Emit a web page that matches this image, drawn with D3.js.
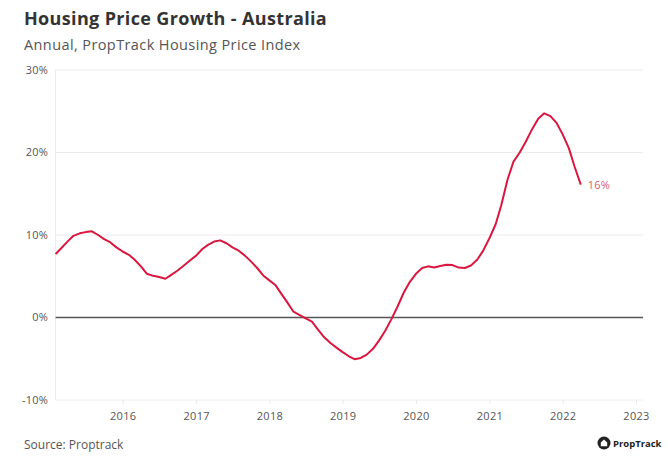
<!DOCTYPE html>
<html>
<head>
<meta charset="utf-8">
<script src="https://cdn.jsdelivr.net/npm/d3@7"></script>
<style>
  body { margin: 0; background: #fff; }
  svg { display: block; font-family: "Open Sans", "DejaVu Sans", sans-serif; }
</style>
</head>
<body>
<svg id="chart" width="668" height="473"></svg>
<script>
// ---- data ----
const startMonth = "2015-02";   // first monthly observation
const growth = [
  7.7, 8.4, 9.2, 9.9, 10.2, 10.35, 10.45, 10.0, 9.5, 9.1, 8.5, 8.0,
  7.6, 7.0, 6.2, 5.3, 5.05, 4.9, 4.7, 5.2, 5.7, 6.3, 6.9, 7.5,
  8.3, 8.8, 9.2, 9.35, 9.0, 8.5, 8.1, 7.5, 6.8, 6.0, 5.1, 4.5,
  3.9, 2.9, 1.8, 0.7, 0.3, -0.1, -0.5, -1.5, -2.4, -3.1, -3.65, -4.2,
  -4.7, -5.05, -4.9, -4.5, -3.8, -2.8, -1.6, -0.2, 1.3, 3.0, 4.3, 5.3,
  6.0, 6.2, 6.05, 6.25, 6.4, 6.35, 6.05, 6.0, 6.3, 7.0, 8.1, 9.6,
  11.3, 13.6, 16.7, 18.9, 20.0, 21.3, 22.8, 24.1, 24.75, 24.4, 23.6, 22.2,
  20.5, 18.3, 16.1
];
const yTicks = [-10, 0, 10, 20, 30];
const xTickYears = [2016, 2017, 2018, 2019, 2020, 2021, 2022, 2023];
const endLabel = "16%";
const title = "Housing Price Growth - Australia";
const subtitle = "Annual, PropTrack Housing Price Index";
const source = "Source: Proptrack";
const brand = "PropTrack";

// ---- build ----
const parseMonth = d3.timeParse("%Y-%m");
const t0 = parseMonth(startMonth);
const data = growth.map((v, i) => ({ date: d3.timeMonth.offset(t0, i), value: v }));

const svg = d3.select("#chart");
const red = "#d9173f";

const x = d3.scaleTime()
  .domain([t0, new Date(2023, 1, 5)])
  .range([55.6, 643]);
const y = d3.scaleLinear().domain([-10, 30]).range([400, 70]);

// gridlines
svg.append("g").selectAll("line").data(yTicks.filter(d => d !== 0)).join("line")
  .attr("x1", x.range()[0]).attr("x2", x.range()[1])
  .attr("y1", d => y(d)).attr("y2", d => y(d))
  .attr("stroke", "#ececec").attr("stroke-width", 1);
svg.append("line")
  .attr("x1", x.range()[0]).attr("x2", x.range()[0])
  .attr("y1", y(30)).attr("y2", y(-10))
  .attr("stroke", "#ececec");

// y labels
svg.append("g").selectAll("text").data(yTicks).join("text")
  .attr("x", 48).attr("y", d => y(d)).attr("dy", "0.35em")
  .attr("text-anchor", "end").attr("font-size", 11).attr("fill", "#555")
  .attr("letter-spacing", 0.2)
  .text(d => d + "%");

// x axis (tick marks + labels)
const xTickDates = xTickYears.map(yr => new Date(yr, 0, 1));
const xAxis = d3.axisBottom(x).tickValues(xTickDates).tickFormat(d3.timeFormat("%Y"))
  .tickSize(4).tickPadding(8);
const gx = svg.append("g").attr("transform", `translate(0,${y(-10)})`).call(xAxis);
gx.select(".domain").remove();
gx.selectAll(".tick line").attr("stroke", "#eaeaea");
gx.selectAll(".tick text").attr("font-size", 11).attr("fill", "#555")
  .attr("letter-spacing", 0.3)
  .attr("font-family", "\"Open Sans\", sans-serif");

// zero line
svg.append("line")
  .attr("x1", x.range()[0]).attr("x2", x.range()[1])
  .attr("y1", y(0)).attr("y2", y(0))
  .attr("stroke", "#555").attr("stroke-width", 1.3);

// series
const line = d3.line().x(d => x(d.date)).y(d => y(d.value));
svg.append("path").datum(data)
  .attr("d", line).attr("fill", "none")
  .attr("stroke", red).attr("stroke-width", 2).attr("stroke-linejoin", "round");

const last = data[data.length - 1];
svg.append("text")
  .attr("x", x(last.date) + 7).attr("y", y(last.value) + 4)
  .attr("font-size", 11).attr("fill", "#e0586f").attr("letter-spacing", 0.2).text(endLabel);

// titles
svg.append("text").attr("x", 24).attr("y", 25)
  .attr("font-size", 18).attr("font-weight", 700).attr("fill", "#333")
  .attr("letter-spacing", 0.35).text(title);
svg.append("text").attr("x", 24).attr("y", 50)
  .attr("font-size", 14.5).attr("fill", "#555")
  .attr("letter-spacing", 0.4).text(subtitle);
svg.append("text").attr("x", 24).attr("y", 449)
  .attr("font-size", 12).attr("fill", "#555").text(source);

// brand logo
const logo = svg.append("g").attr("transform", "translate(604,443)");
logo.append("circle").attr("r", 6.5).attr("fill", "#222");
logo.append("path").attr("d", "M-3.2,3.2 L-3.2,-0.6 L0,-3.6 L3.2,-0.6 L3.2,3.2 Z")
  .attr("fill", "#fff");
logo.append("text").attr("x", 9).attr("y", 3.5)
  .attr("font-size", 9.5).attr("font-weight", 700).attr("fill", "#222").text(brand);
</script>
</body>
</html>
